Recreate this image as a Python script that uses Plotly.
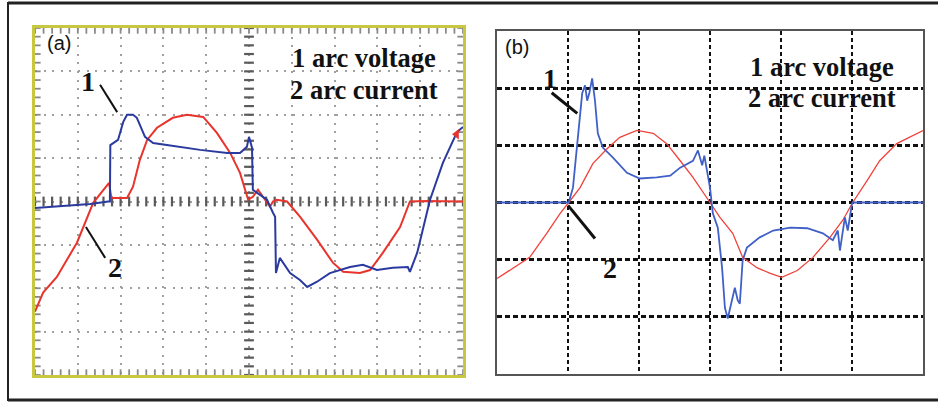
import numpy as np
import plotly.graph_objects as go

W, H = 938, 403

# ---------------- Panel (a) data (divisions) ----------------
a_volt_x = [0, 1.29, 1.71, 1.75, 1.76, 1.94, 2.06, 2.15, 2.29, 2.38, 2.57, 2.76, 3.08, 3.86, 4.49, 4.79,
            4.95, 5.0, 5.07, 5.09, 5.19, 5.42, 5.56, 5.61, 5.63, 5.72, 5.96, 6.19, 6.36, 6.59, 6.89,
            7.36, 7.66, 7.99, 8.36, 8.71, 8.76, 8.93, 9.23, 9.53, 9.86, 10.0]
a_volt_y = [-0.15, -0.06, 0.0, 0.0, 1.30, 1.42, 1.83, 2.0, 2.0, 1.93, 1.49, 1.35, 1.30, 1.19, 1.12, 1.12,
            1.26, 1.49, 1.24, 0.27, 0.20, 0.04, -0.26, -0.35, -1.65, -1.30, -1.65, -1.81, -1.97, -1.85, -1.65,
            -1.51, -1.46, -1.58, -1.53, -1.51, -1.62, -1.18, 0.04, 0.89, 1.60, 1.72]

a_curr_x = [0, 0.19, 0.51, 0.98, 1.36, 1.59, 1.73, 1.78, 1.82, 2.15, 2.29, 2.45, 2.62, 2.85, 3.22, 3.55,
            3.93, 4.25, 4.56, 4.79, 4.98, 5.09, 5.21, 5.49, 5.56, 5.65, 5.89, 6.19, 6.59, 6.96, 7.20,
            7.59, 7.83, 8.13, 8.53, 8.76, 9.16, 9.93, 10.0]
a_curr_y = [-2.54, -2.10, -1.74, -0.95, -0.03, 0.27, 0.43, 0.11, 0.08, 0.08, 0.34, 0.96, 1.42, 1.70, 1.93, 2.0,
            1.95, 1.58, 1.12, 0.66, 0.04, 0.11, 0.27, -0.12, 0.0, 0.04, 0.0, -0.35, -0.88, -1.41, -1.62,
            -1.65, -1.58, -1.18, -0.59, 0.0, 0.01, 0.0, 0.0]

# ---------------- Panel (b) data (divisions) ----------------
b_volt_x = [0, 1.01, 1.07, 1.14, 1.20, 1.24, 1.27, 1.30, 1.34, 1.38, 1.42, 1.49, 1.63, 1.83, 2.01, 2.25,
            2.44, 2.58, 2.76, 2.83, 2.89, 2.92, 2.96, 3.0, 3.04, 3.11, 3.17, 3.21, 3.25, 3.31, 3.35,
            3.39, 3.42, 3.46, 3.52, 3.70, 3.89, 4.13, 4.37, 4.59, 4.73, 4.80, 4.83, 4.90, 4.94, 5.0,
            5.01, 6.0]
b_volt_y = [0, 0, 0.26, 1.21, 1.91, 2.05, 1.78, 1.91, 2.17, 1.78, 1.21, 0.96, 0.79, 0.52, 0.42, 0.44,
            0.47, 0.61, 0.73, 0.91, 0.65, 0.82, 0.51, 0.26, -0.19, -0.44, -1.14, -1.84, -2.03, -1.71, -1.49,
            -1.71, -1.77, -1.01, -0.79, -0.61, -0.49, -0.44, -0.45, -0.54, -0.66, -0.49, -0.84, -0.26, -0.49, -0.02,
            0, 0]

b_curr_x = [0, 0.23, 0.46, 0.70, 0.89, 1.01, 1.17, 1.35, 1.55, 1.73, 1.97, 2.20, 2.39, 2.58, 2.76, 3.0,
            3.14, 3.32, 3.46, 3.66, 3.85, 4.01, 4.23, 4.45, 4.69, 4.87, 5.01, 5.21, 5.39, 5.63, 6.0]
b_curr_y = [-1.33, -1.15, -0.96, -0.54, -0.19, 0.0, 0.26, 0.68, 0.94, 1.14, 1.26, 1.21, 1.03, 0.73, 0.44, 0.0,
            -0.26, -0.54, -0.96, -1.14, -1.24, -1.31, -1.19, -0.96, -0.61, -0.31, 0.0, 0.38, 0.73, 1.03, 1.26]

legend_lines = ["1 arc voltage", "2 arc current"]

fig = go.Figure()

# ---------- panel (a) scope ticks (decoration) ----------
tick_col = "#5a5a5a"
edge_col = "#8a8a8a"
ax_pos = np.arange(0, 10.001, 0.2)
ay_pos = np.arange(-4, 4.001, 0.2)
fig.add_trace(go.Scatter(x=ax_pos, y=[0] * len(ax_pos), mode="markers", xaxis="x", yaxis="y",
                         marker=dict(symbol="line-ns", size=7, line=dict(width=2.2, color=tick_col)),
                         hoverinfo="skip", showlegend=False))
fig.add_trace(go.Scatter(x=[5] * len(ay_pos), y=ay_pos, mode="markers", xaxis="x", yaxis="y",
                         marker=dict(symbol="line-ew", size=7, line=dict(width=2.2, color=tick_col)),
                         hoverinfo="skip", showlegend=False))
for yb in (-3.95, 3.95):
    fig.add_trace(go.Scatter(x=ax_pos, y=[yb] * len(ax_pos), mode="markers", xaxis="x", yaxis="y",
                             marker=dict(symbol="line-ns", size=5, line=dict(width=1.8, color=edge_col)),
                             hoverinfo="skip", showlegend=False))
for xb in (0.05, 9.95):
    fig.add_trace(go.Scatter(x=[xb] * len(ay_pos), y=ay_pos, mode="markers", xaxis="x", yaxis="y",
                             marker=dict(symbol="line-ew", size=5, line=dict(width=1.8, color=edge_col)),
                             hoverinfo="skip", showlegend=False))

# ---------- panel (a) traces ----------
fig.add_trace(go.Scatter(x=a_curr_x, y=a_curr_y, mode="lines", xaxis="x", yaxis="y",
                         line=dict(color="#e8342c", width=2), showlegend=False))
fig.add_trace(go.Scatter(x=a_volt_x, y=a_volt_y, mode="lines", xaxis="x", yaxis="y",
                         line=dict(color="#2b3a9e", width=2), showlegend=False))
fig.add_trace(go.Scatter(x=[9.85], y=[1.55], mode="markers", xaxis="x", yaxis="y",
                         marker=dict(symbol="triangle-left", size=9, color="#e8342c"),
                         hoverinfo="skip", showlegend=False))

# ---------- panel (b) traces ----------
fig.add_trace(go.Scatter(x=b_curr_x, y=b_curr_y, mode="lines", xaxis="x2", yaxis="y2",
                         line=dict(color="#f0423a", width=1.3), showlegend=False))
fig.add_trace(go.Scatter(x=b_volt_x, y=b_volt_y, mode="lines", xaxis="x2", yaxis="y2",
                         line=dict(color="#4060c8", width=1.8), showlegend=False))

def px_x(p):
    return p / W

def px_y(p):
    return 1 - p / H

axis_common = dict(showticklabels=False, zeroline=False, ticks="", mirror=True, showline=True)

fig.update_layout(
    width=W, height=H, margin=dict(l=0, r=0, t=0, b=0),
    paper_bgcolor="white", plot_bgcolor="white",
    xaxis=dict(domain=[px_x(35), px_x(463)], range=[0, 10], dtick=1, showgrid=True,
               gridcolor="#a0a0a0", griddash="2px,6.6px", gridwidth=2,
               linecolor="#c8c840", linewidth=3, anchor="y", **axis_common),
    yaxis=dict(domain=[px_y(375), px_y(28)], range=[-4, 4], dtick=1, showgrid=True,
               gridcolor="#a0a0a0", griddash="2px,6.6px", gridwidth=2,
               linecolor="#c8c840", linewidth=3, anchor="x", **axis_common),
    xaxis2=dict(domain=[px_x(497), px_x(923)], range=[0, 6], dtick=1, showgrid=True,
                gridcolor="#111111", griddash="4px,3px", gridwidth=1.6,
                linecolor="#555555", linewidth=1.5, anchor="y2", **axis_common),
    yaxis2=dict(domain=[px_y(374), px_y(31)], range=[-3, 3], dtick=1, showgrid=True,
                gridcolor="#111111", griddash="5px,3px", gridwidth=2.5,
                linecolor="#555555", linewidth=1.5, anchor="x2", **axis_common),
)

shapes = []
# outer frame
shapes.append(dict(type="line", xref="paper", yref="paper", x0=px_x(8), x1=1, y0=px_y(3), y1=px_y(3),
                   line=dict(color="#222", width=3)))
shapes.append(dict(type="line", xref="paper", yref="paper", x0=px_x(8), x1=1, y0=px_y(400), y1=px_y(400),
                   line=dict(color="#222", width=3)))
shapes.append(dict(type="line", xref="paper", yref="paper", x0=px_x(8), x1=px_x(8), y0=px_y(2), y1=px_y(401),
                   line=dict(color="#222", width=2)))
# leader lines
shapes.append(dict(type="line", xref="x", yref="y", x0=1.52, y0=2.69, x1=1.92, y1=2.06,
                   line=dict(color="#111", width=2)))
shapes.append(dict(type="line", xref="x", yref="y", x0=1.19, y0=-0.59, x1=1.64, y1=-1.30,
                   line=dict(color="#111", width=2)))
shapes.append(dict(type="line", xref="x2", yref="y2", x0=0.77, y0=1.92, x1=1.13, y1=1.56,
                   line=dict(color="#111", width=3)))
shapes.append(dict(type="line", xref="x2", yref="y2", x0=1.0, y0=-0.05, x1=1.38, y1=-0.63,
                   line=dict(color="#111", width=3)))
fig.update_layout(shapes=shapes)

serif = dict(family="Liberation Serif", size=26.5, color="#111", weight="bold")
sans = dict(family="Liberation Sans", size=20, color="#111")
ann = []
ann.append(dict(text="(a)", xref="paper", yref="paper", x=px_x(45), y=px_y(43), xanchor="left",
                yanchor="middle", showarrow=False, font=sans))
ann.append(dict(text="(b)", xref="paper", yref="paper", x=px_x(503), y=px_y(47), xanchor="left",
                yanchor="middle", showarrow=False, font=sans))
for i, t in enumerate(legend_lines):
    ann.append(dict(text=t, xref="paper", yref="paper", x=px_x(364), y=px_y(58 + 32 * i),
                    xanchor="center", yanchor="middle", showarrow=False, font=serif))
    ann.append(dict(text=t, xref="paper", yref="paper", x=px_x(822), y=px_y(67 + 31 * i),
                    xanchor="center", yanchor="middle", showarrow=False, font=serif))
big = dict(family="Liberation Serif", size=28, color="#111", weight="bold")
ann.append(dict(text="1", xref="x", yref="y", x=1.24, y=2.76, showarrow=False, font=big))
ann.append(dict(text="2", xref="x", yref="y", x=1.87, y=-1.53, showarrow=False, font=big))
ann.append(dict(text="1", xref="x2", yref="y2", x=0.75, y=2.17, showarrow=False, font=big))
ann.append(dict(text="2", xref="x2", yref="y2", x=1.59, y=-1.15, showarrow=False, font=big))
fig.update_layout(annotations=ann)

fig.write_html("out.html")
